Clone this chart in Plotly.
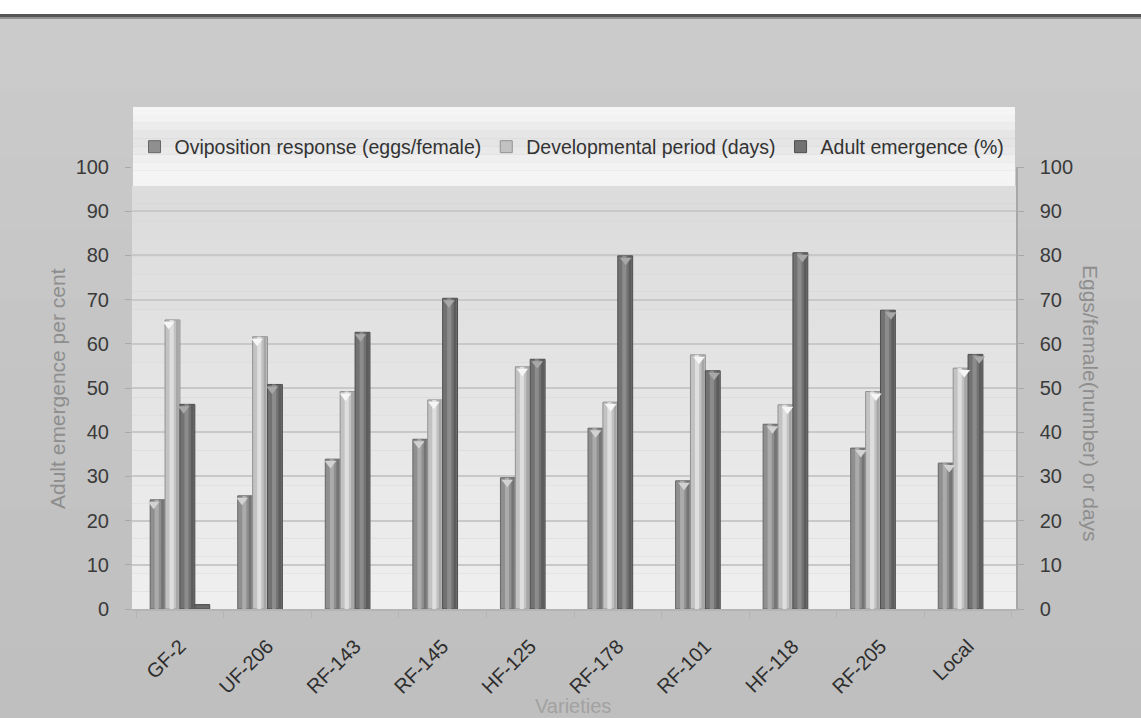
import plotly.graph_objects as go

# ---------------- data ----------------
varieties = ["GF-2", "UF-206", "RF-143", "RF-145", "HF-125",
             "RF-178", "RF-101", "HF-118", "RF-205", "Local"]
oviposition = [24.7, 25.6, 33.9, 38.4, 29.7, 40.9, 29.0, 41.8, 36.4, 33.0]
development = [65.4, 61.6, 49.2, 47.3, 54.8, 46.8, 57.5, 46.2, 49.2, 54.5]
adult_emergence = [46.3, 50.8, 62.6, 70.3, 56.5, 79.9, 53.9, 80.6, 67.6, 57.6]
extra_series = [1.0, None, None, None, None, None, None, None, None, None]

series_names = ["Oviposition response (eggs/female)",
                "Developmental period (days)",
                "Adult emergence (%)"]
y_ticks = list(range(0, 101, 10))

# ---------------- geometry helpers ----------------
W, H = 1141, 718
L, R, T, B = 132, 125, 167, 109
PW, PH = W - L - R, H - T - B


def px(x):
    return (x - L) / PW


def py(y):
    return (H - B - y) / PH


FONT = "Liberation Sans, Arial, Helvetica, sans-serif"

fig = go.Figure()

slot = 0.17
base_offsets = [-2 * slot, -slot, 0.0, slot]
styles = [
    # mid, edge, highlight, shadow, cap-triangle
    ("#8f8f8f", "#666666", "#ababab", "#747474", "#d2d2d2"),
    ("#c2c2c2", "#929292", "#dedede", "#a6a6a6", "#f6f6f6"),
    ("#727272", "#4e4e4e", "#8c8c8c", "#5c5c5c", "#a8a8a8"),
]
values = [oviposition, development, adult_emergence]

for i, (name, vals, (mid, edge, hi, sh, cap)) in enumerate(zip(series_names, values, styles)):
    off = base_offsets[i]
    fig.add_trace(go.Bar(
        x=varieties, y=vals, name=name, offset=off, width=slot,
        marker=dict(color=mid, line=dict(color=edge, width=1)),
        legendrank=i,
    ))
    # cylinder highlight
    fig.add_trace(go.Bar(
        x=varieties, y=vals, offset=off + slot * 0.30, width=slot * 0.28,
        marker=dict(color=hi, line=dict(width=0)), showlegend=False, hoverinfo="skip",
    ))
    # right-side shade
    fig.add_trace(go.Bar(
        x=varieties, y=vals, offset=off + slot * 0.74, width=slot * 0.18,
        marker=dict(color=sh, line=dict(width=0)), showlegend=False, hoverinfo="skip",
    ))
    # bevel triangle at the top of each bar (numeric overlay axis)
    centers = [k + off + slot / 2 for k in range(len(varieties))]
    fig.add_trace(go.Scatter(
        x=centers, y=[v - 1.0 for v in vals], xaxis="x2", mode="markers",
        marker=dict(symbol="triangle-down", size=10, color=cap, line=dict(width=0)),
        showlegend=False, hoverinfo="skip",
    ))

fig.add_trace(go.Bar(
    x=varieties, y=extra_series, offset=base_offsets[3], width=slot,
    marker=dict(color="#6a6a6a", line=dict(color="#4e4e4e", width=1)),
    showlegend=False, hoverinfo="skip",
))

# invisible trace to anchor the right axis
fig.add_trace(go.Scatter(
    x=varieties, y=development, yaxis="y2", mode="markers",
    marker=dict(opacity=0), showlegend=False, hoverinfo="skip",
))

# ---------------- background shapes ----------------
shapes = []
shapes.append(dict(type="rect", xref="paper", yref="paper", x0=px(0), x1=px(W),
                   y0=py(14), y1=py(0), fillcolor="#ffffff", line=dict(width=0), layer="below"))
shapes.append(dict(type="rect", xref="paper", yref="paper", x0=px(0), x1=px(W),
                   y0=py(17), y1=py(14), fillcolor="#555555", line=dict(width=0), layer="below"))
shapes.append(dict(type="rect", xref="paper", yref="paper", x0=px(0), x1=px(W),
                   y0=py(19), y1=py(17), fillcolor="#909090", line=dict(width=0), layer="below"))
n_out = 10
for k in range(n_out):
    y0p = 19 + (H - 19) * k / n_out
    y1p = 19 + (H - 19) * (k + 1) / n_out
    c = int(203 - 12 * k / (n_out - 1))
    shapes.append(dict(type="rect", xref="paper", yref="paper", x0=px(0), x1=px(W),
                       y0=py(y1p), y1=py(y0p), fillcolor=f"rgb({c},{c},{c})",
                       line=dict(width=0), layer="below"))
n_bands = 24
top_px, bot_px = 186, H - B
for k in range(n_bands):
    y0p = top_px + (bot_px - top_px) * k / n_bands
    y1p = top_px + (bot_px - top_px) * (k + 1) / n_bands
    c = int(220 + 19 * k / (n_bands - 1))
    shapes.append(dict(type="rect", xref="paper", yref="paper", x0=0, x1=1,
                       y0=py(y1p), y1=py(y0p), fillcolor=f"rgb({c},{c},{c})",
                       line=dict(width=0), layer="below"))
leg_cols = [245, 242, 236, 230, 229, 233, 239, 243, 245, 244]
lt, lb = 107, 186
for k, c in enumerate(leg_cols):
    y0p = lt + (lb - lt) * k / len(leg_cols)
    y1p = lt + (lb - lt) * (k + 1) / len(leg_cols)
    shapes.append(dict(type="rect", xref="paper", yref="paper", x0=px(133), x1=px(1015),
                       y0=py(y1p), y1=py(y0p), fillcolor=f"rgb({c},{c},{c})",
                       line=dict(width=0), layer="above"))

annotations = [
    dict(text="Adult emergence per cent", xref="paper", yref="paper",
         x=px(57), y=py(389), textangle=-90, showarrow=False,
         font=dict(family=FONT, size=21, color="#8e8e8e"), xanchor="center", yanchor="middle"),
    dict(text="Eggs/female(number) or days", xref="paper", yref="paper",
         x=px(1091), y=py(403), textangle=90, showarrow=False,
         font=dict(family=FONT, size=21, color="#8e8e8e"), xanchor="center", yanchor="middle"),
    dict(text="Varieties", xref="paper", yref="paper",
         x=px(573), y=py(706), showarrow=False,
         font=dict(family=FONT, size=20, color="#a2a2a2"), xanchor="center", yanchor="middle"),
]

fig.update_layout(
    width=W, height=H,
    margin=dict(l=L, r=R, t=T, b=B, pad=0),
    paper_bgcolor="#c8c8c8",
    plot_bgcolor="#e2e2e2",
    barmode="overlay",
    font=dict(family=FONT, size=20, color="#333333"),
    shapes=shapes,
    annotations=annotations,
    showlegend=True,
    legend=dict(orientation="h", x=px(572), xanchor="center", y=py(147), yanchor="middle",
                bgcolor="rgba(0,0,0,0)", font=dict(family=FONT, size=19.5, color="#333333"),
                itemwidth=30, traceorder="normal"),
    xaxis=dict(
        type="category", categoryorder="array", categoryarray=varieties,
        tickangle=-45, tickfont=dict(family=FONT, size=20, color="#2e2e2e"),
        showline=True, linecolor="#b4b4b4", linewidth=1.5,
        ticks="outside", tickson="boundaries", ticklen=7, tickcolor="#b4b4b4",
        showgrid=False, ticklabelstandoff=16,
    ),
    xaxis2=dict(
        overlaying="x", range=[-0.5, len(varieties) - 0.5], visible=False,
    ),
    yaxis=dict(
        range=[0, 100], tickvals=y_ticks,
        tickfont=dict(family=FONT, size=20, color="#3a3a3a"),
        showgrid=True, gridcolor="#c8c8c8", gridwidth=1.5,
        showline=False, zeroline=False,
        ticks="outside", ticklen=6, tickcolor="#a8a8a8",
        ticklabelstandoff=12,
    ),
    yaxis2=dict(
        range=[0, 100], tickvals=y_ticks, overlaying="y", side="right",
        tickfont=dict(family=FONT, size=20, color="#3a3a3a"),
        showgrid=False, showline=True, linecolor="#a8a8a8", linewidth=1.5,
        zeroline=False, ticks="outside", ticklen=6, tickcolor="#a8a8a8",
        ticklabelstandoff=12,
    ),
)

fig.write_html("out.html")
